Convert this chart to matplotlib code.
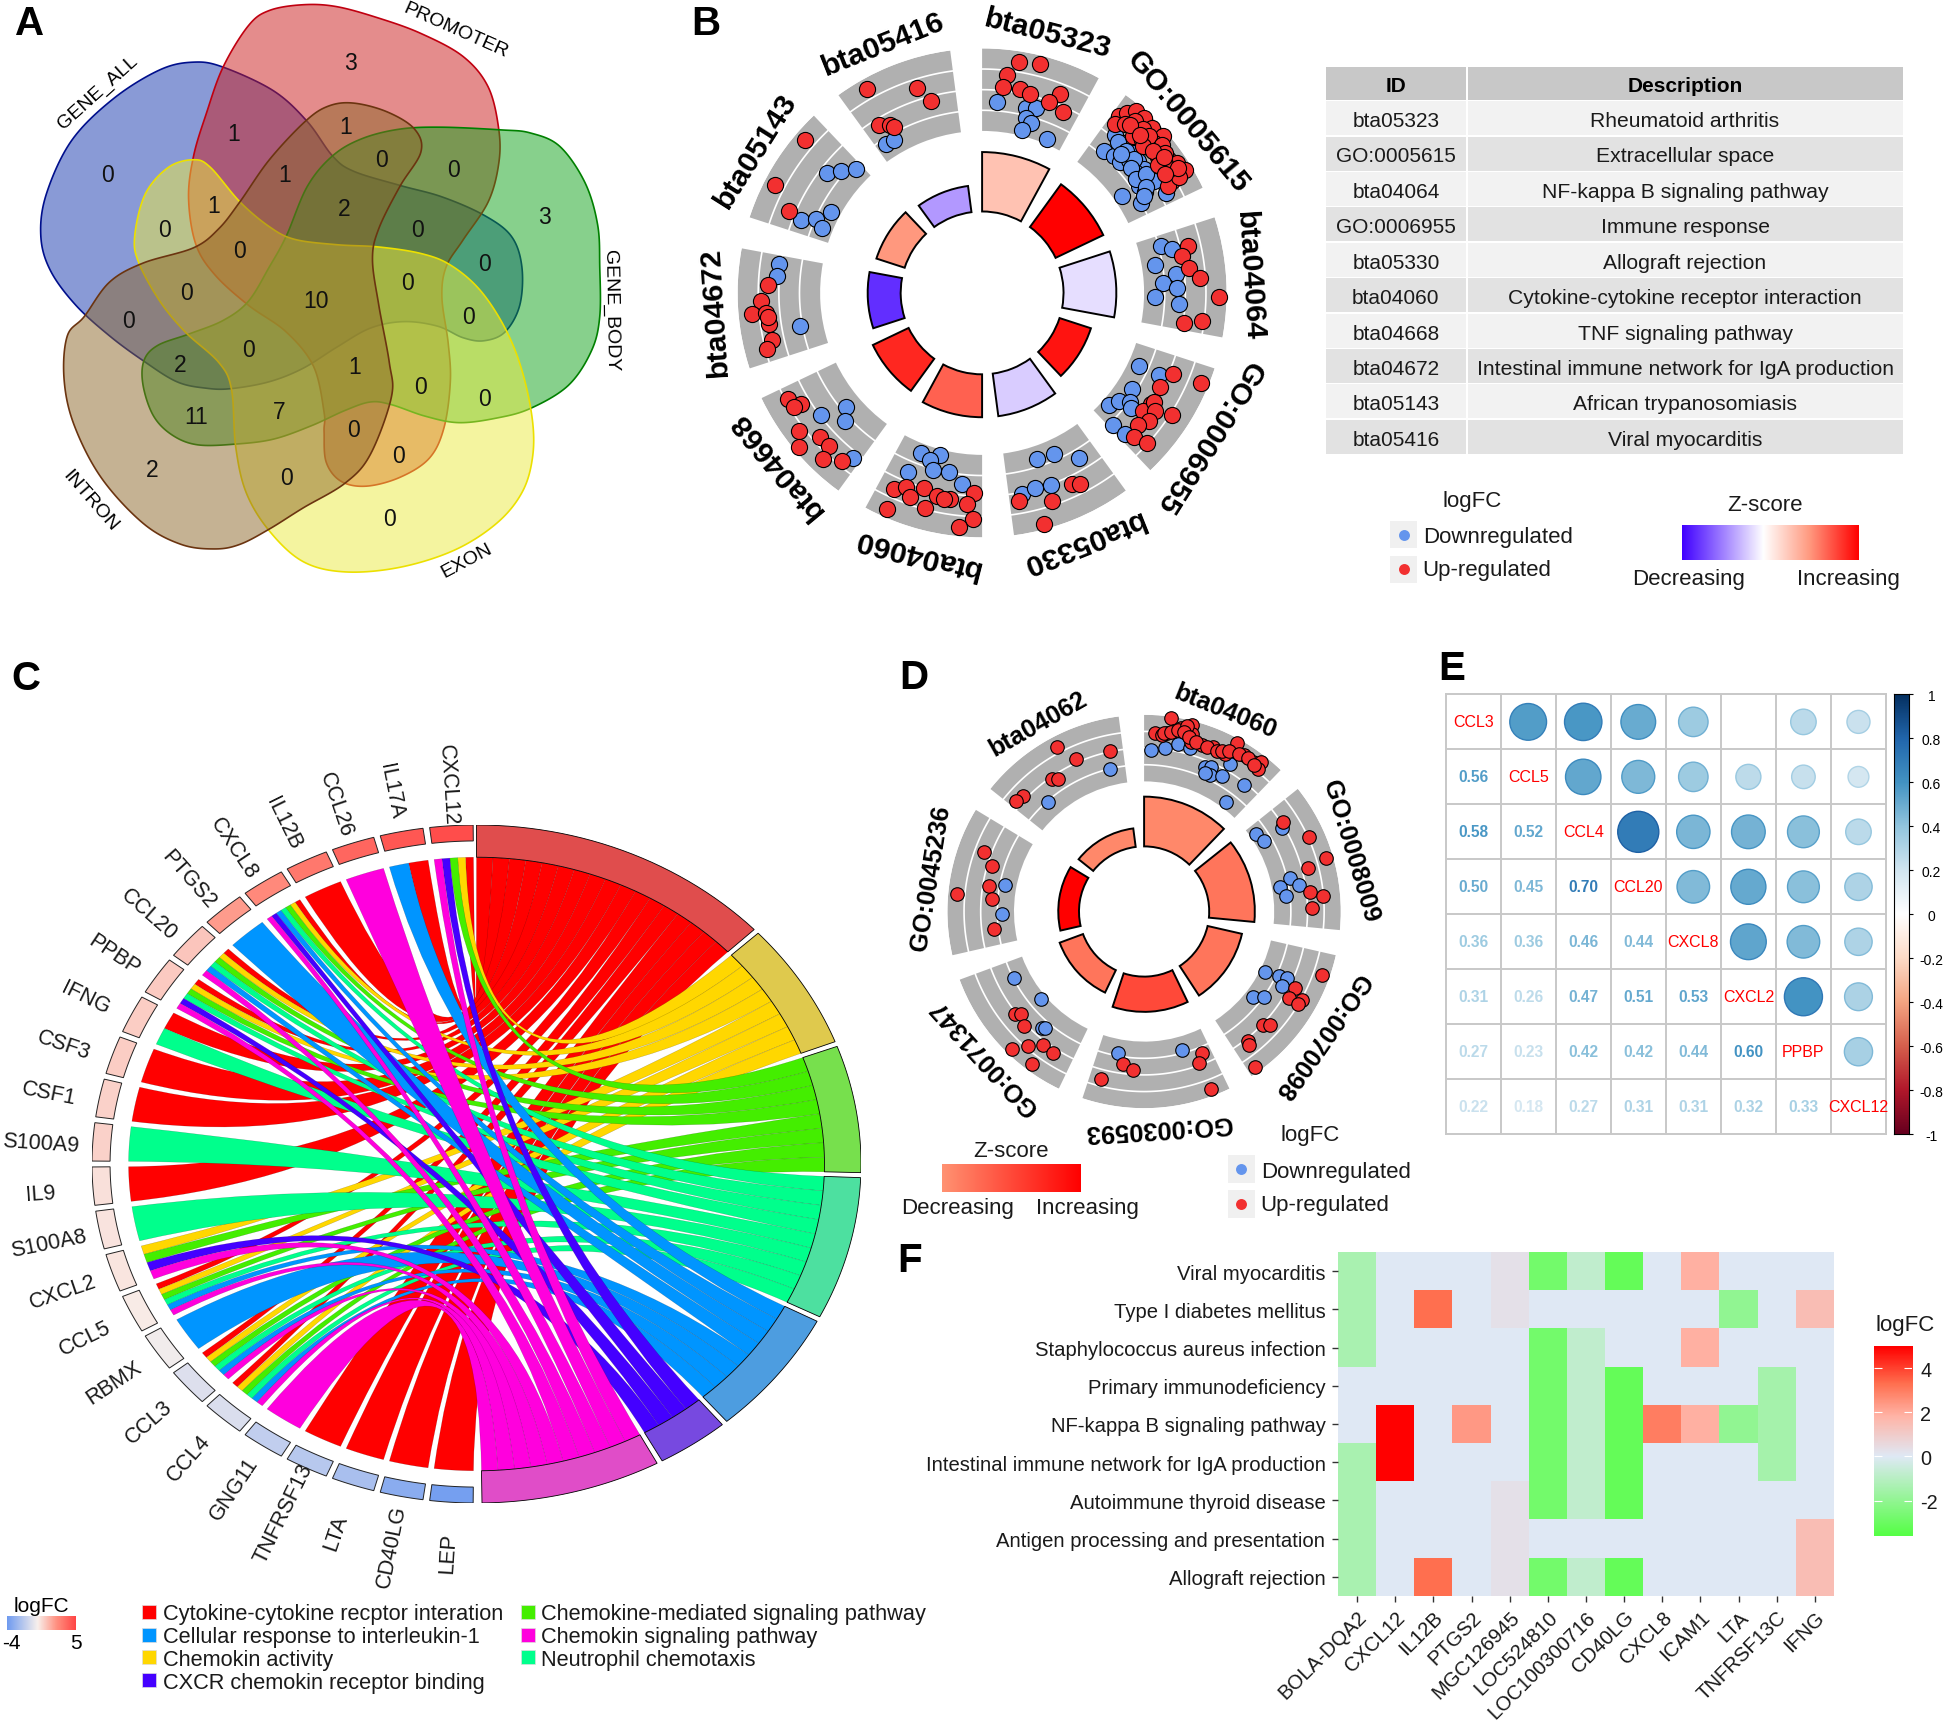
"""Six-panel gene enrichment figure: Venn, GO circles, chord, correlation and heatmap."""

from __future__ import annotations

import numpy as np
import matplotlib

matplotlib.use("Agg")
import matplotlib.pyplot as plt
from matplotlib.colors import LinearSegmentedColormap, Normalize, TwoSlopeNorm
from matplotlib.patches import Circle, PathPatch, Rectangle
from matplotlib.path import Path

plt.rcParams["font.family"] = ["Liberation Sans", "DejaVu Sans"]

W, H = 1944, 1724

# panel A
venn_names = ["GENE_ALL", "PROMOTER", "GENE_BODY", "EXON", "INTRON"]
venn_counts = [3, 1, 1, 0, 1, 0, 0, 1, 2, 0, 0, 3, 0, 0, 0, 0, 10, 0, 0, 2, 0, 1, 0, 0, 11, 7, 0, 0, 0, 2, 0]

# panel B
b_ids = ["bta05323", "GO:0005615", "bta04064", "GO:0006955", "bta05330",
         "bta04060", "bta04668", "bta04672", "bta05143", "bta05416"]
b_counts = [18, 16, 16, 10, 13, 13, 12, 10, 9, 8]
b_zscores = [0.3, 1.0, -0.13, 0.93, -0.2, 0.68, 0.87, -0.82, 0.5, -0.4]
b_up = [
    [(9.0, 4.0), (14.1, 4.2), (6.4, 2.6), (5.9, 1.4), (10.6, 1.4), (13.5, 1.1), (21.4, 2.0), (19.2, 0.9), (24.1, 0.5)],
    [(1.8, 3.0), (2.7, 3.7), (4.2, 4.4), (6.8, 4.4), (2.2, 2.1), (4.2, 2.7), (6.8, 3.3), (7.8, 2.4), (10.3, 2.8),
     (9.9, 4.2), (13.1, 4.5), (13.0, 3.4), (15.4, 3.6), (12.8, 2.7), (18.2, 3.5), (20.4, 4.0), (22.8, 4.3),
     (16.3, 2.8), (22.3, 3.4), (23.4, 2.7), (24.2, 2.1), (23.5, 3.5), (5.5, 3.6), (8.5, 3.6), (10.8, 3.5),
     (14.5, 3.9), (16.5, 3.6), (19.0, 3.0), (20.5, 3.0), (21.5, 3.8), (5.5, 3.0), (11.5, 2.4), (14.3, 2.8),
     (18.0, 2.4), (9.0, 3.0), (17.3, 3.3), (21.0, 2.4)],
    [(5.2, 1.8), (7.6, 1.0), (11.1, 1.5), (14.1, 2.5), (18.9, 4.3), (25.2, 2.8), (26.6, 1.1)],
    [(4.3, 4.2), (5.1, 1.4), (10.0, 0.8), (15.2, 0.9), (18.3, 0.7), (14.4, 1.0), (16.4, 1.6), (19.5, 1.7),
     (22.4, 1.1), (25.6, 1.6), (24.2, 2.9), (14.7, 3.2)],
    [(10.9, 1.8), (9.0, 2.1), (26.0, 1.8), (17.5, 2.6), (20.9, 4.5)],
    [(24.1, 2.1), (21.4, 1.5), (19.5, 2.3), (16.5, 1.0), (12.6, 1.5), (8.9, 1.5), (10.6, 1.6), (2.4, 0.7),
     (4.1, 1.8), (14.9, 2.9), (23.8, 4.2), (2.3, 3.2), (5.7, 4.1)],
    [(25.3, 2.7), (22.4, 1.9), (22.7, 2.6), (17.0, 3.5), (13.8, 4.5), (12.3, 2.3), (9.1, 2.3), (7.8, 3.6), (3.7, 2.5)],
    [(20.1, 2.1), (15.8, 2.7), (12.7, 3.7), (12.6, 2.3), (9.6, 2.2), (5.3, 2.2), (3.3, 2.9), (11.5, 2.2)],
    [(22.8, 4.0), (9.6, 3.9), (5.0, 1.6)],
    [(6.6, 4.0), (18.3, 2.1), (21.0, 0.6), (4.5, 0.4), (7.3, -0.2), (8.0, -0.5)],
]
b_down = [
    [(4.5, -0.1), (13.5, -0.3), (16.1, 0.0), (14.2, -1.2), (16.2, -1.6), (13.8, -2.4), (23.0, -2.5)],
    [(4.6, -0.6), (4.2, 1.3), (7.3, 1.2), (8.0, -0.3), (10.5, -0.3), (11.2, 1.2), (13.9, 1.1), (16.6, 1.1),
     (15.8, 0.2), (19.0, 1.0), (19.8, -0.3), (20.9, 1.2), (22.2, -0.1), (19.5, -2.2), (24.5, -1.0), (25.5, 1.6),
     (12.0, 0.5), (6.0, 1.0), (9.5, 0.9), (12.5, 0.9), (14.0, 0.1), (17.5, -0.2), (18.0, 0.9), (9.0, 0.3),
     (21.0, 0.2), (23.0, -0.4)],
    [(3.3, -0.8), (5.0, 0.2), (8.8, -1.7), (12.4, 0.2), (14.8, -1.1), (16.5, 0.2), (19.2, -1.9), (21.1, 0.4)],
    [(6.9, -1.9), (6.9, 0.2), (14.6, -1.4), (23.5, -2.3), (20.4, -1.8), (18.4, -0.9), (19.7, -0.4), (27.3, -0.7),
     (26.7, 0.8)],
    [(17.6, -1.7), (12.1, -1.6), (5.6, -0.1), (24.8, 1.2), (20.7, 0.9), (16.4, 1.1)],
    [(20.9, -2.1), (14.5, -2.5), (17.3, -1.7), (15.6, -0.9), (10.5, -1.0), (22.4, 0.1), (5.9, -0.1)],
    [(16.7, 0.9), (14.1, -1.5), (10.9, -0.5), (2.1, 1.6)],
    [(26.1, 1.2), (22.7, 1.2), (7.6, -0.8)],
    [(19.8, 0.3), (22.9, -0.6), (26.5, -1.5), (4.0, 0.2), (6.0, -1.1), (4.1, -1.9), (10.2, -2.1)],
    [(3.3, -1.5), (6.0, -1.6)],
]

table_ids = ["bta05323", "GO:0005615", "bta04064", "GO:0006955", "bta05330",
             "bta04060", "bta04668", "bta04672", "bta05143", "bta05416"]
table_desc = ["Rheumatoid arthritis", "Extracellular space", "NF-kappa B signaling pathway", "Immune response",
              "Allograft rejection", "Cytokine-cytokine receptor interaction", "TNF signaling pathway",
              "Intestinal immune network for IgA production", "African trypanosomiasis", "Viral myocarditis"]

# panel C
chord_genes = ["LEP", "CD40LG", "LTA", "TNFRSF13", "GNG11", "CCL4", "CCL3", "RBMX", "CCL5", "CXCL2", "S100A8", "IL9",
               "S100A9", "CSF1", "CSF3", "IFNG", "PPBP", "CCL20", "PTGS2", "CXCL8", "IL12B", "CCL26", "IL17A", "CXCL12"]
chord_logfc = [-3.8, -3.2, -2.3, -1.9, -1.6, -0.85, -0.8, -0.2, 0.15, 0.3, 0.35, 0.4,
               0.8, 0.8, 0.9, 0.9, 1.0, 1.1, 2.2, 2.7, 3.3, 3.9, 4.4, 4.7]
term_cytokine = ["LEP", "CD40LG", "LTA", "TNFRSF13", "CCL4", "CCL3", "CCL5", "IL9", "CSF1", "CSF3", "IFNG",
                 "PPBP", "CCL20", "CXCL8", "IL12B", "IL17A", "CXCL12"]
term_activity = ["CCL4", "CCL3", "CCL5", "CXCL2", "PPBP", "CCL20", "CXCL8", "CXCL12"]
term_mediated = ["CCL4", "CCL3", "CCL5", "CXCL2", "PPBP", "CCL20", "CXCL8", "CXCL12"]
term_neutrophil = ["CCL4", "CCL3", "CCL5", "S100A8", "S100A9", "IFNG", "PPBP", "CCL20", "CXCL8"]
term_interleukin = ["CCL4", "CCL3", "RBMX", "CCL5", "CCL20", "PTGS2", "CXCL8", "IL17A"]
term_cxcr = ["CXCL2", "PPBP", "CXCL8", "CXCL12"]
term_signaling = ["GNG11", "CCL4", "CCL3", "CCL5", "CXCL2", "PPBP", "CCL20", "CXCL8", "CCL26", "CXCL12"]
chord_legend_left = ["Cytokine-cytokine recptor interation", "Cellular response to interleukin-1",
                     "Chemokin activity", "CXCR chemokin receptor binding"]
chord_legend_right = ["Chemokine-mediated signaling pathway", "Chemokin signaling pathway", "Neutrophil chemotaxis"]

# panel D
d_ids = ["bta04060", "GO:0008009", "GO:0070098", "GO:0030593", "GO:0071347", "GO:0045236", "bta04062"]
d_counts = [24, 22, 17, 17, 12, 10, 9]
d_zscores = [0.07, 0.2, 0.2, 0.5, 0.2, 1.0, 0.07]
d_up = [
    [(7.8, 4.8), (3.6, 2.8), (5.8, 2.7), (7.3, 3.0), (9.3, 3.4), (11.3, 3.9), (14.4, 4.5), (15.1, 3.4), (15.5, 2.5),
     (19.1, 2.5), (22.6, 2.8), (27.2, 2.7), (29.1, 3.6), (29.0, 4.5), (32.5, 3.7), (35.9, 3.6), (38.0, 4.2), (38.8, 3.3),
     (6.5, 2.9), (8.5, 3.2), (10.5, 3.5), (13.0, 4.2), (12.5, 3.5), (14.5, 3.0), (17.0, 2.6), (21.0, 2.6),
     (24.5, 2.6), (26.0, 2.8), (28.0, 3.2), (31.0, 3.5), (34.0, 3.6), (37.0, 3.4)],
    [(5.7, 1.2), (14.4, 3.1), (22.2, 4.2), (23.6, 1.8), (31.7, 1.4), (33.7, 2.9), (37.3, 1.6)],
    [(6.9, 4.1), (14.1, 1.7), (17.9, 1.6), (16.6, 3.1), (18.2, 2.9), (30.9, 1.1), (29.1, 1.7), (38.5, 1.3), (38.9, 1.8), (41.5, 4.3)],
    [(3.4, -0.3), (5.9, 0.7), (5.1, 4.1), (33.7, -0.1), (29.8, 0.5), (40.1, 2.1)],
    [(25.9, 1.2), (24.5, 0.6), (20.6, 1.3), (18.1, 4.3), (15.2, 2.7), (11.5, 1.5), (6.9, 1.6), (10.6, 4.1)],
    [(33.4, 1.9), (29.5, 0.5), (22.2, 0.3), (17.5, -0.3), (18.1, 4.0), (6.2, -0.5)],
    [(23.4, 3.7), (27.5, 1.4), (39.3, 1.1), (16.7, 0.8), (18.4, 0.4), (5.1, 1.5), (2.3, 1.7)],
]
d_down = [
    [(2.4, 0.8), (7.1, 1.2), (11.3, 1.9), (15.8, 1.8), (30.1, 1.9), (22.8, 0.2), (25.0, 0.5), (25.7, -0.4),
     (23.6, -0.5), (29.8, 0.1), (38.3, 0.7), (36.7, -2.2)],
    [(3.8, -2.3), (8.0, -1.9), (7.5, 0.7), (25.8, -0.6), (28.8, 0.3), (28.3, -2.0), (32.4, -1.5)],
    [(13.7, -2.4), (12.7, -0.7), (12.0, 0.3), (15.7, 0.2), (25.5, -2.0), (22.6, -1.0)],
    [(10.2, -1.4), (36.0, -1.4)],
    [(37.1, -1.1), (24.0, -2.4), (15.7, 0.0), (14.7, -0.3)],
    [(23.7, -1.6), (11.7, -1.5)],
    [(37.8, -1.0), (10.1, -1.1)],
]

# panel E
e_genes = ["CCL3", "CCL5", "CCL4", "CCL20", "CXCL8", "CXCL2", "PPBP", "CXCL12"]
e_lower = [
    [0.56],
    [0.58, 0.52],
    [0.50, 0.45, 0.70],
    [0.36, 0.36, 0.46, 0.44],
    [0.31, 0.26, 0.47, 0.51, 0.53],
    [0.27, 0.23, 0.42, 0.42, 0.44, 0.60],
    [0.22, 0.18, 0.27, 0.31, 0.31, 0.32, 0.33],
]
e_not_significant = [("CCL3", "CXCL2")]
e_ticks = [1, 0.8, 0.6, 0.4, 0.2, 0, -0.2, -0.4, -0.6, -0.8, -1]

# panel F
f_pathways = ["Viral myocarditis", "Type I diabetes mellitus", "Staphylococcus aureus infection",
              "Primary immunodeficiency", "NF-kappa B signaling pathway",
              "Intestinal immune network for IgA production", "Autoimmune thyroid disease",
              "Antigen processing and presentation", "Allograft rejection"]
f_genes = ["BOLA-DQA2", "CXCL12", "IL12B", "PTGS2", "MGC126945", "LOC524810", "LOC100300716", "CD40LG",
           "CXCL8", "ICAM1", "LTA", "TNFRSF13C", "IFNG"]
f_logfc = [
    [-1.4, 0, 0, 0, 0.3, -2.8, -0.8, -3.2, 0, 1.9, 0, 0, 0],
    [-1.4, 0, 3.3, 0, 0.3, 0, 0, 0, 0, 0, -2.0, 0, 1.5],
    [-1.4, 0, 0, 0, 0, -2.8, -0.8, 0, 0, 1.9, 0, 0, 0],
    [0, 0, 0, 0, 0, -2.8, -0.8, -3.2, 0, 0, 0, -1.5, 0],
    [0, 5.0, 0, 2.4, 0, -2.8, -0.8, -3.2, 3.0, 1.9, -2.0, -1.5, 0],
    [-1.4, 5.0, 0, 0, 0, -2.8, -0.8, -3.2, 0, 0, 0, -1.5, 0],
    [-1.4, 0, 0, 0, 0.3, -2.8, -0.8, -3.2, 0, 0, 0, 0, 0],
    [-1.4, 0, 0, 0, 0.3, 0, 0, 0, 0, 0, 0, 0, 1.5],
    [-1.4, 0, 3.3, 0, 0.3, -2.8, -0.8, -3.2, 0, 0, 0, 0, 1.5],
]

UP_COLOR = "#f23030"
DOWN_COLOR = "#6495ed"
GRAY_RING = "#b0b0b0"
TEXT_COLOR = "#1a1a1a"

zscore_cmap = LinearSegmentedColormap.from_list(
    "zscore", [(0, "#4000ff"), (0.5, "#ffffff"), (0.75, "#ff9a80"), (1, "#ff0000")])
zscore_legend_cmap = LinearSegmentedColormap.from_list(
    "zscore_legend", [(0, "#4000ff"), (0.46, "#ffffff"), (0.72, "#ff9a80"), (1, "#ff0000")])
zscore_red_cmap = LinearSegmentedColormap.from_list("zscore_red", ["#ff9272", "#ff0000"])
chord_cmap = LinearSegmentedColormap.from_list(
    "chord", [(0, "#6f9bf0"), (0.5, "#f8f0ec"), (0.75, "#ff9080"), (1, "#ff4545")])
corr_cmap = LinearSegmentedColormap.from_list(
    "corr", ["#67001F", "#B2182B", "#D6604D", "#F4A582", "#FDDBC7", "#FFFFFF",
             "#D1E5F0", "#92C5DE", "#4393C3", "#2166AC", "#053061"])
heat_cmap = LinearSegmentedColormap.from_list(
    "heat", [(0, "#55ff45"), (0.5, "#dfe9f5"), (0.68, "#ffb5a8"), (0.83, "#ff7050"), (1, "#ff0000")])


def add_axes(fig, x0, y0, x1, y1, **kwargs):
    """Add axes from a rectangle given in figure pixels, y downwards."""
    return fig.add_axes([x0 / W, 1 - y1 / H, (x1 - x0) / W, (y1 - y0) / H], **kwargs)


def smooth_closed(points, steps=14):
    """Closed Catmull-Rom curve through the given outline points."""
    pts = np.asarray(points, dtype=float)
    out = []
    count = len(pts)
    for i in range(count):
        p0, p1, p2, p3 = pts[i - 1], pts[i], pts[(i + 1) % count], pts[(i + 2) % count]
        for t in np.linspace(0, 1, steps, endpoint=False):
            out.append(0.5 * (2 * p1 + (p2 - p0) * t + (2 * p0 - 5 * p1 + 4 * p2 - p3) * t**2
                              + (3 * p1 - p0 - 3 * p2 + p3) * t**3))
    return np.array(out)


def draw_venn(ax):
    # outlines and label spots traced in a crop scaled 2.376 x 2.613
    outlines = {
        "GENE_ALL": [(530, 178), (460, 165), (380, 185), (270, 260), (170, 370), (110, 510), (97, 620), (120, 710),
                     (180, 800), (260, 880), (340, 945), (420, 1000), (490, 1017), (550, 1018), (640, 1000), (720, 965),
                     (800, 910), (880, 860), (960, 843), (1040, 855), (1100, 885), (1150, 893), (1200, 870), (1235, 800),
                     (1240, 700), (1215, 620), (1150, 565), (1050, 517), (950, 487), (840, 450), (790, 410), (730, 320),
                     (650, 240)],
        "PROMOTER": [(530, 178), (590, 70), (640, 30), (720, 15), (800, 20), (900, 50), (1000, 90), (1100, 150),
                     (1160, 230), (1185, 340), (1185, 430), (1160, 530), (1100, 630), (1060, 700), (1050, 780),
                     (1065, 900), (1070, 1000), (1055, 1120), (1020, 1200), (950, 1250), (870, 1273), (810, 1260),
                     (775, 1210), (770, 1130), (770, 1080), (745, 960), (680, 870), (590, 800), (510, 720), (465, 640),
                     (448, 520), (460, 410), (490, 300)],
        "GENE_BODY": [(1190, 342), (1260, 350), (1330, 385), (1390, 480), (1420, 590), (1425, 700), (1425, 830),
                      (1405, 920), (1350, 1010), (1260, 1070), (1180, 1095), (1090, 1107), (1010, 1090), (930, 1060),
                      (880, 1053), (820, 1075), (740, 1115), (650, 1150), (560, 1163), (470, 1165), (410, 1140),
                      (365, 1090), (340, 1010), (342, 945), (375, 905), (450, 875), (530, 840), (590, 790), (640, 700),
                      (680, 620), (730, 490), (790, 410), (860, 365), (950, 340), (1050, 335)],
        "EXON": [(460, 420), (500, 440), (570, 530), (640, 595), (700, 628), (800, 642), (900, 648), (1000, 665),
                 (1070, 695), (1140, 760), (1200, 860), (1240, 970), (1265, 1100), (1265, 1200), (1240, 1290),
                 (1180, 1370), (1080, 1440), (950, 1485), (820, 1497), (720, 1470), (640, 1390), (585, 1290), (560, 1170),
                 (550, 1020), (520, 950), (440, 870), (380, 790), (330, 690), (320, 620), (345, 510), (400, 440)],
        "INTRON": [(200, 830), (160, 880), (152, 990), (175, 1110), (240, 1250), (340, 1370), (430, 1425), (510, 1437),
                   (570, 1425), (640, 1385), (720, 1330), (820, 1265), (880, 1190), (930, 1040), (925, 950), (900, 800),
                   (885, 680), (900, 600), (950, 490), (1000, 400), (985, 340), (920, 295), (840, 272), (780, 280),
                   (725, 320), (640, 420), (570, 530), (520, 600), (460, 650), (340, 690), (260, 740)],
    }
    fills = {"GENE_ALL": "#1537af", "PROMOTER": "#cb1b1b", "GENE_BODY": "#11a31b", "EXON": "#ebeb41", "INTRON": "#8d6729"}
    edges = {"GENE_ALL": "#000f8c", "PROMOTER": "#c00010", "GENE_BODY": "#008000", "EXON": "#ece000", "INTRON": "#6b3410"}
    for name in venn_names:
        curve = smooth_closed(outlines[name]) / [2.376, 2.613]
        ax.fill(curve[:, 0], curve[:, 1], color=fills[name], alpha=0.5, lw=0)
        ax.fill(curve[:, 0], curve[:, 1], fill=False, edgecolor=edges[name], lw=1.2)

    spots = [(833, 163), (555, 348), (822, 330), (255, 455), (677, 457), (907, 418), (1077, 442), (507, 538), (817, 545),
             (390, 600), (992, 600), (1293, 567), (568, 655), (1150, 688), (968, 738), (442, 763), (750, 785), (1112, 827),
             (306, 837), (428, 953), (590, 913), (843, 958), (1000, 1010), (1150, 1042), (465, 1088), (664, 1075),
             (840, 1122), (948, 1190), (680, 1247), (361, 1227), (925, 1355)]
    for value, (x, y) in zip(venn_counts, spots):
        ax.text(x / 2.376, y / 2.613 + 1, str(value), fontsize=16.5, ha="center", va="center", color="#111111")

    labels = {"GENE_ALL": (98, 93, 42), "PROMOTER": (455.4, 30.6, -24), "GENE_BODY": (611, 311, -89),
              "EXON": (467, 561, 28), "INTRON": (90.5, 501, -49)}
    for name, (x, y, angle) in labels.items():
        ax.text(x, y, name, fontsize=14, rotation=angle, ha="center", va="center", rotation_mode="anchor")


def draw_go_circle(fig, cx, cy, radius, ids, counts, zscores, up, down, cmap, norm, style):
    """GO circle on a polar axes, radius 1 being the outer edge of the grey tracks."""
    ax = add_axes(fig, cx - radius, cy - radius, cx + radius, cy + radius, projection="polar")
    ax.set_theta_zero_location("N")
    ax.set_theta_direction(-1)
    ax.set_ylim(0, 1)
    ax.set_axis_off()

    period = 360 / len(ids)
    for i, name in enumerate(ids):
        start = i * period
        ax.bar(np.radians(start), 1 - style["track_in"], width=np.radians(style["width"]), bottom=style["track_in"],
               align="edge", color=GRAY_RING, lw=0, zorder=1)
        arc = np.radians(np.linspace(start, start + style["width"], 40))
        for level in (0.25, 0.5, 0.75):
            radial = style["track_in"] + level * (1 - style["track_in"])
            ax.plot(arc, np.full_like(arc, radial), color="white", lw=1.2, zorder=2)

        ax.bar(np.radians(start), counts[i] * style["per_count"], width=np.radians(style["width"]),
               bottom=style["bar_in"], align="edge", color=cmap(norm(zscores[i])), edgecolor="black", lw=1.4, zorder=2)

        for points, color in ((down[i], DOWN_COLOR), (up[i], UP_COLOR)):
            pos = np.array([p[0] for p in points])
            lfc = np.array([p[1] for p in points])
            radial = style["track_in"] + (1 - style["track_in"]) * (lfc + 3) / 8
            ax.scatter(np.radians(start + pos), radial, s=style["dot"], color=color, edgecolor="black", lw=0.8,
                       zorder=3, clip_on=False)

        middle = start + style["width"] / 2
        ax.text(np.radians(middle), style["label_r"], name, rotation=-middle, rotation_mode="anchor", ha="center",
                va="center", fontsize=style["label_size"], fontweight="bold", clip_on=False)


def gradient_bar(fig, x0, y0, x1, y1, cmap):
    ax = add_axes(fig, x0, y0, x1, y1)
    ax.imshow(np.linspace(0, 1, 256)[None, :], cmap=cmap, aspect="auto")
    ax.set_axis_off()


def draw_logfc_key(ax, keys, dots, labels):
    for (x0, y0, x1, y1), (dx, dy), (tx, ty, text), color in zip(keys, dots, labels, (DOWN_COLOR, UP_COLOR)):
        ax.add_patch(Rectangle((x0, y0), x1 - x0, y1 - y0, color="#f0f0f0", lw=0))
        ax.scatter([dx], [dy], s=62, color=color, lw=0)
        ax.text(tx, ty, text, fontsize=16, ha="left", va="center", color=TEXT_COLOR)


def draw_table(ax):
    x_id, x_id_end, x_desc, x_end = 1326.3, 1465.5, 1467.6, 1902.5
    ax.add_patch(Rectangle((x_id, 67.5), x_id_end - x_id, 33.2, color="#c8c8c8", lw=0))
    ax.add_patch(Rectangle((x_desc, 67.5), x_end - x_desc, 33.2, color="#c8c8c8", lw=0))
    ax.text((x_id + x_id_end) / 2, 86, "ID", fontsize=15, fontweight="bold", ha="center", va="center")
    ax.text((x_desc + x_end) / 2, 86, "Description", fontsize=15, fontweight="bold", ha="center", va="center")
    for i, (row_id, row_desc) in enumerate(zip(table_ids, table_desc)):
        top = 102.1 + 35.4 * i
        color = "#f2f2f2" if i % 2 == 0 else "#e2e2e2"
        ax.add_patch(Rectangle((x_id, top), x_id_end - x_id, 34, color=color, lw=0))
        ax.add_patch(Rectangle((x_desc, top), x_end - x_desc, 34, color=color, lw=0))
        ax.text((x_id + x_id_end) / 2, top + 19.5, row_id, fontsize=15, ha="center", va="center", color=TEXT_COLOR)
        ax.text((x_desc + x_end) / 2, top + 19.5, row_desc, fontsize=15.2, ha="center", va="center", color=TEXT_COLOR)


def ring_point(angle, radius):
    rad = np.radians(angle)
    return radius * np.sin(rad), -radius * np.cos(rad)


def ring_segment(a0, a1, r_in, r_out, **kwargs):
    angles = np.linspace(a0, a1, 30)
    outer = np.column_stack(ring_point(angles, r_out))
    inner = np.column_stack(ring_point(angles[::-1], r_in))
    return plt.Polygon(np.vstack([outer, inner]), closed=True, **kwargs)


def draw_chord(fig, canvas):
    # the original chord diagram is wider than tall, so the unit circle maps to an ellipse
    ax = add_axes(fig, 476.5 - 384.5, 1165 - 339, 476.5 + 384.5, 1165 + 339)
    ax.set_xlim(-1, 1)
    ax.set_ylim(1, -1)
    ax.set_axis_off()
    r_ribbon = 0.905

    terms = [
        (term_cytokine, "#ff0000", "#e04d4d"),
        (term_activity, "#ffd700", "#dfc94d"),
        (term_mediated, "#44ee00", "#77e04d"),
        (term_neutrophil, "#00ff8c", "#4de0a0"),
        (term_interleukin, "#0095ff", "#4d9de0"),
        (term_cxcr, "#4400ff", "#7749e0"),
        (term_signaling, "#ff00dd", "#e04dc8"),
    ]
    norm = TwoSlopeNorm(vmin=-4, vcenter=0, vmax=5)

    # genes span equal arcs down the left half, each split among its terms
    gene_arc = {}
    for i, gene in enumerate(chord_genes):
        start, end = 180.5 + 7.5 * i, 187.0 + 7.5 * i
        gene_arc[gene] = (start, end)
        ax.add_patch(ring_segment(start, end, 0.953, 1.0, facecolor=chord_cmap(norm(chord_logfc[i])),
                                  edgecolor="#222222", lw=0.7))
        mid = (start + end) / 2
        x, y = ring_point(mid, 1.135)
        ax.text(x, y + 0.012, gene, fontsize=15.5, rotation=270 - mid, rotation_mode="anchor", ha="center", va="center",
                clip_on=False, color=TEXT_COLOR)

    members_of = {gene: [idx for idx, term in enumerate(terms) if gene in term[0]] for gene in chord_genes}

    start = 0.0
    per_gene = 2.72
    for idx, (members, color, ring_color) in enumerate(terms):
        ordered = sorted(members, key=chord_genes.index, reverse=True)
        for k, gene in enumerate(ordered):
            a0, a1 = start + k * per_gene, start + (k + 1) * per_gene
            g0, g1 = gene_arc[gene]
            shares = members_of[gene]
            # red ends up nearest the high-angle end of the gene box
            slot = len(shares) - 1 - shares.index(idx)
            step = (g1 - g0) / len(shares)
            b_lo, b_hi = g0 + slot * step, g0 + (slot + 1) * step

            term_arc = np.column_stack(ring_point(np.linspace(a0, a1, 8), r_ribbon))
            gene_side = np.column_stack(ring_point(np.linspace(b_lo, b_hi, 8), r_ribbon))
            verts = [*term_arc, (0, 0), gene_side[0], *gene_side[1:], (0, 0), term_arc[0]]
            codes = ([Path.MOVETO] + [Path.LINETO] * 7 + [Path.CURVE3, Path.CURVE3]
                     + [Path.LINETO] * 7 + [Path.CURVE3, Path.CURVE3])
            ax.add_patch(PathPatch(Path(verts, codes), facecolor=color, edgecolor=(0, 0, 0, 0.28), lw=0.3, zorder=2 + idx))
        end = start + len(members) * per_gene
        ax.add_patch(ring_segment(start, end, r_ribbon, 1.0, facecolor=ring_color, edgecolor="black", lw=0.6, zorder=10))
        start = end + 0.85

    canvas.text(41, 1607, "logFC", fontsize=15, ha="center", va="center")
    cax = add_axes(fig, 7, 1617, 76, 1631)
    cax.imshow(np.linspace(-4, 5, 256)[None, :], cmap=chord_cmap, norm=norm, aspect="auto")
    cax.set_axis_off()
    canvas.text(11.5, 1644, "-4", fontsize=15, ha="center", va="center")
    canvas.text(76, 1644, "5", fontsize=15, ha="center", va="center")

    left_colors = ["#ff0000", "#0095ff", "#ffd700", "#4400ff"]
    right_colors = ["#44ee00", "#ff00dd", "#00ff8c"]
    for i, (label, color) in enumerate(zip(chord_legend_left, left_colors)):
        y = 1613 + 22.7 * i
        canvas.add_patch(Rectangle((142, y - 7), 14, 14, facecolor=color, edgecolor="#dddddd", lw=0.5))
        canvas.text(162.5, y + 2, label, fontsize=15.65, ha="left", va="center", color=TEXT_COLOR)
    for i, (label, color) in enumerate(zip(chord_legend_right, right_colors)):
        y = 1613 + 22.7 * i
        canvas.add_patch(Rectangle((521, y - 7), 14, 14, facecolor=color, edgecolor="#dddddd", lw=0.5))
        canvas.text(541, y + 2, label, fontsize=15.65, ha="left", va="center", color=TEXT_COLOR)


def draw_corr(fig):
    ax = add_axes(fig, 1445.6, 695.4, 1886, 1135.2)
    n = len(e_genes)
    ax.set_xlim(0, n)
    ax.set_ylim(n, 0)
    ax.set_xticks([])
    ax.set_yticks([])
    for spine in ax.spines.values():
        spine.set_color("#c8c8c8")
        spine.set_linewidth(1.4)
    for k in range(1, n):
        ax.axhline(k, color="#c8c8c8", lw=1.4)
        ax.axvline(k, color="#c8c8c8", lw=1.4)

    norm = Normalize(-1, 1)
    for row, values in enumerate(e_lower, start=1):
        for col, value in enumerate(values):
            ax.text(col + 0.5, row + 0.5, f"{value:.2f}", color=corr_cmap(norm(value)), fontsize=11.2, fontweight="bold",
                    ha="center", va="center")
            if (e_genes[col], e_genes[row]) in e_not_significant:
                continue
            ax.add_patch(Circle((row + 0.5, col + 0.5), 0.446 * np.sqrt(value), facecolor=corr_cmap(norm(value)),
                                edgecolor=corr_cmap(norm(value + 0.12)), lw=1))
    for i, gene in enumerate(e_genes):
        ax.text(i + 0.5, i + 0.5, gene, color="red", fontsize=11.5, ha="center", va="center")

    cax = add_axes(fig, 1893.7, 695.4, 1909.4, 1135.2)
    cax.imshow(np.linspace(1, -1, 256)[:, None], cmap=corr_cmap, norm=norm, aspect="auto", extent=[0, 1, -1, 1])
    cax.set_xticks([])
    cax.set_yticks(e_ticks)
    cax.set_yticklabels([f"{t:g}" for t in e_ticks], ha="center")
    cax.yaxis.tick_right()
    cax.tick_params(axis="y", length=3, labelsize=10, pad=13, width=0.8)


def draw_heatmap(fig, canvas):
    ax = add_axes(fig, 1338, 1253, 1834, 1597)
    norm = TwoSlopeNorm(vmin=-3.6, vcenter=0, vmax=5)
    ax.imshow(np.array(f_logfc), cmap=heat_cmap, norm=norm, aspect="auto")
    ax.set_yticks(range(len(f_pathways)))
    ax.set_yticklabels(f_pathways, fontsize=14.6, color=TEXT_COLOR)
    ax.set_xticks(range(len(f_genes)))
    ax.set_xticklabels(f_genes, fontsize=14.6, rotation=45, ha="right", va="top", rotation_mode="anchor", color=TEXT_COLOR)
    ax.tick_params(length=4, width=1, color="#333333", pad=4)
    ax.tick_params(axis="y", pad=5)
    for spine in ax.spines.values():
        spine.set_visible(False)

    canvas.text(1905, 1326, "logFC", fontsize=16, ha="center", va="center", color=TEXT_COLOR)
    cax = add_axes(fig, 1874, 1347, 1912, 1537)
    cax.imshow(np.linspace(5, -3.6, 256)[:, None], cmap=heat_cmap, norm=norm, aspect="auto", extent=[0, 1, -3.6, 5])
    cax.set_xticks([])
    ticks = [4, 2, 0, -2]
    cax.set_yticks(ticks)
    cax.set_yticklabels([str(t) for t in ticks], fontsize=14.3, color=TEXT_COLOR)
    cax.yaxis.tick_right()
    cax.tick_params(axis="y", length=0, pad=6)
    cax.hlines(ticks, 0, 0.2, color="white", lw=0.8)
    cax.hlines(ticks, 0.8, 1, color="white", lw=0.8)
    for spine in cax.spines.values():
        spine.set_visible(False)


def main():
    fig = plt.figure(figsize=(W / 100, H / 100), dpi=100)
    canvas = fig.add_axes([0, 0, 1, 1])
    canvas.set_xlim(0, W)
    canvas.set_ylim(H, 0)
    canvas.set_axis_off()

    for letter, x, y in (("A", 29.5, 24), ("B", 705.7, 24), ("C", 25.8, 678.6), ("D", 914, 678.4),
                         ("E", 1452, 669), ("F", 910, 1261)):
        canvas.text(x, y, letter, fontsize=29, fontweight="bold", ha="center", va="center")

    draw_venn(canvas)

    b_style = {"width": 28.5, "track_in": 0.6625, "bar_in": 0.333, "per_count": 0.0135, "dot": 135,
               "label_r": 1.096, "label_size": 21.8}
    draw_go_circle(fig, 982.1, 293.9, 244.5, b_ids, b_counts, b_zscores, b_up, b_down, zscore_cmap,
                   Normalize(-1, 1), b_style)
    draw_table(canvas)

    canvas.text(1471.7, 501.5, "logFC", fontsize=16, ha="center", va="center", color=TEXT_COLOR)
    draw_logfc_key(canvas, [(1390, 522, 1417, 549), (1390, 557, 1417, 584)], [(1403.5, 535.7), (1403.5, 570)],
                   [(1423, 538, "Downregulated"), (1422, 571, "Up-regulated")])
    canvas.text(1765.3, 505.5, "Z-score", fontsize=16, ha="center", va="center", color=TEXT_COLOR)
    gradient_bar(fig, 1682, 525.7, 1858.5, 560.7, zscore_legend_cmap)
    canvas.text(1689, 580, "Decreasing", fontsize=16, ha="center", va="center", color=TEXT_COLOR)
    canvas.text(1848, 580, "Increasing", fontsize=16, ha="center", va="center", color=TEXT_COLOR)

    draw_chord(fig, canvas)

    d_style = {"width": 44, "track_in": 0.6615, "bar_in": 0.331, "per_count": 0.01054, "dot": 95,
               "label_r": 1.098, "label_size": 18.3}
    draw_go_circle(fig, 1144.1, 912.5, 196.7, d_ids, d_counts, d_zscores, d_up, d_down, zscore_red_cmap,
                   Normalize(0, 1), d_style)
    canvas.text(1011, 1151.5, "Z-score", fontsize=16, ha="center", va="center", color=TEXT_COLOR)
    gradient_bar(fig, 941.7, 1165.4, 1080.4, 1193, zscore_red_cmap)
    canvas.text(958, 1209, "Decreasing", fontsize=16, ha="center", va="center", color=TEXT_COLOR)
    canvas.text(1087, 1209, "Increasing", fontsize=16, ha="center", va="center", color=TEXT_COLOR)
    canvas.text(1310, 1135.5, "logFC", fontsize=16, ha="center", va="center", color=TEXT_COLOR)
    draw_logfc_key(canvas, [(1227.5, 1156, 1255, 1184), (1227.5, 1191, 1255, 1218.6)], [(1241, 1170), (1241, 1205)],
                   [(1261, 1172.5, "Downregulated"), (1260, 1205.5, "Up-regulated")])

    draw_corr(fig)
    draw_heatmap(fig, canvas)

    fig.savefig("out.png", dpi=100)
    plt.close(fig)


if __name__ == "__main__":
    main()
